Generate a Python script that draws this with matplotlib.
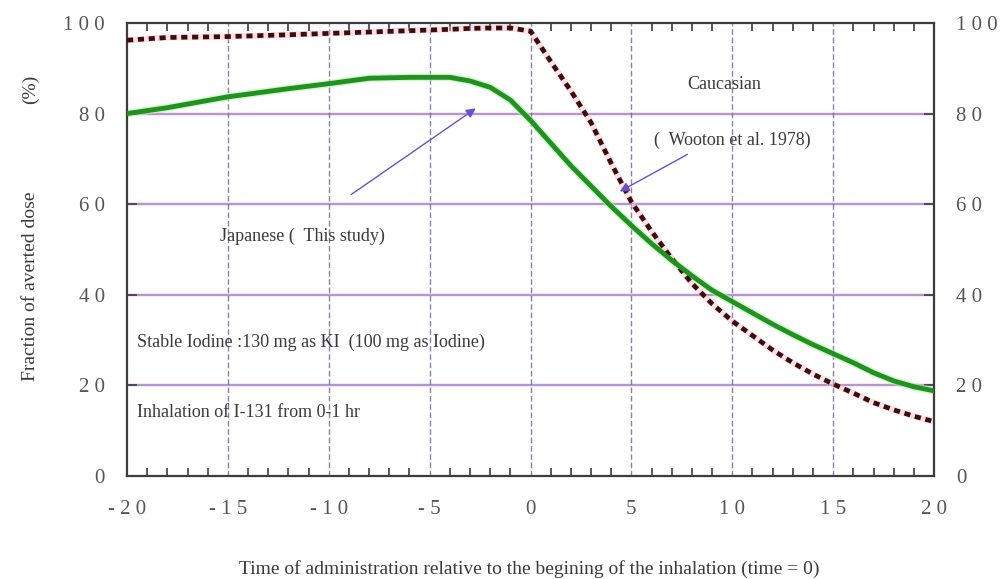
import matplotlib.pyplot as plt
from matplotlib.ticker import MultipleLocator

# values
hours = [-20, -18, -15, -12, -10, -8, -6, -4, -3, -2, -1, 0, 1, 2, 3, 4, 5, 6, 7, 8, 9,
         10, 11, 12, 13, 14, 15, 16, 17, 18, 19, 20]
japanese = [80.0, 81.3, 83.7, 85.5, 86.6, 87.8, 88.0, 88.0, 87.2, 85.8, 83.0, 78.5,
            73.5, 68.5, 64.0, 59.5, 55.3, 51.3, 47.6, 44.2, 41.0, 38.5, 36.0, 33.5,
            31.2, 29.0, 27.0, 25.0, 22.8, 21.0, 19.7, 18.8]
caucasian = [96.2, 96.8, 97.0, 97.4, 97.7, 98.0, 98.3, 98.6, 98.8, 98.9, 98.9, 98.2,
             91.5, 85.0, 78.0, 69.0, 60.5, 54.0, 48.0, 42.5, 38.0, 34.2, 31.0, 27.8,
             25.0, 22.5, 20.3, 18.3, 16.2, 14.6, 13.2, 12.0]

x_ticks = [-20, -15, -10, -5, 0, 5, 10, 15, 20]
x_labels = ["- 2 0", "- 1 5", "- 1 0", "- 5", "0", "5", "1 0", "1 5", "2 0"]
y_ticks = [0, 20, 40, 60, 80, 100]
y_labels = ["0", "2 0", "4 0", "6 0", "8 0", "1 0 0"]

TEXT = "#3a3a3a"
TICK_TEXT = "#555555"
GRID = "#6f5f9c"

plt.rcParams["font.family"] = ["Liberation Serif", "DejaVu Serif"]

fig = plt.figure(figsize=(10.05, 5.79), dpi=100)
ax = fig.add_axes([0.1264, 0.1779, 0.8030, 0.7824])

ax.set_xlim(-20, 20)
ax.set_ylim(0, 100)

for xv in x_ticks[1:-1]:
    ax.axvline(xv, color=GRID, lw=1.0, ls=(0, (4, 2)), zorder=1, alpha=0.8)
for yv in y_ticks[1:-1]:
    ax.axhline(yv, color="#f3d2ee", lw=3.0, zorder=0.5, alpha=0.6)
    ax.axhline(yv, color="#7a62b4", lw=1.1, zorder=1, alpha=0.75)

ax.plot(hours, caucasian, color="#f2b8c8", lw=4.5, zorder=2, alpha=0.45)
ax.plot(hours, caucasian, color="#3e0c0c", lw=3.4, ls=(0, (1.3, 1.0)), zorder=3)
ax.plot(hours, japanese, color="#b9efb0", lw=5.5, zorder=2, alpha=0.6)
ax.plot(hours, japanese, color="#1f9220", lw=3.5, zorder=4)

for side in ax.spines.values():
    side.set_color("#3c3c3c")
    side.set_linewidth(1.6)

ax.set_xticks(x_ticks, labels=x_labels)
ax.set_yticks(y_ticks, labels=y_labels)
ax.xaxis.set_minor_locator(MultipleLocator(1))
ax.tick_params(axis="x", which="major", direction="in", length=0, pad=17,
               labelsize=15, labelcolor=TICK_TEXT)
ax.tick_params(axis="x", which="minor", direction="in", length=6, width=1.2,
               color="#3c3c3c", top=True)
ax.tick_params(axis="y", which="major", direction="in", length=7, width=1.2,
               color="#3c3c3c", right=True, labelright=True, pad=16,
               labelsize=15, labelcolor=TICK_TEXT)

ax.text(9.6, 86.5, "Caucasian", fontsize=13, color=TEXT, ha="center", va="center")
ax.text(6.1, 74.0, "(  Wooton et al. 1978)", fontsize=13, color=TEXT, ha="left", va="center")
ax.annotate("", xy=(4.3, 62.5), xytext=(7.9, 71.3),
            arrowprops=dict(arrowstyle="-|>", color="#6a4fd0", lw=1.0, mutation_scale=14))
ax.text(-15.4, 52.8, "Japanese (  This study)", fontsize=13, color=TEXT, ha="left", va="center")
ax.annotate("", xy=(-2.6, 81.5), xytext=(-9.0, 61.8),
            arrowprops=dict(arrowstyle="-|>", color="#6a4fd0", lw=1.0, mutation_scale=14))
ax.text(-19.5, 29.4, "Stable Iodine :130 mg as KI  (100 mg as Iodine)", fontsize=13,
        color=TEXT, ha="left", va="center")
ax.text(-19.5, 14.0, "Inhalation of I-131 from 0-1 hr", fontsize=13, color=TEXT,
        ha="left", va="center")

fig.text(0.030, 0.505, "Fraction of averted dose", rotation=90, fontsize=14,
         color=TEXT, ha="center", va="center")
fig.text(0.030, 0.845, "(%)", rotation=90, fontsize=14, color=TEXT, ha="center", va="center")
fig.text(0.527, 0.018, "Time of administration relative to the begining of the inhalation (time = 0)",
         fontsize=14, color=TEXT, ha="center", va="center")

fig.savefig("out.png", dpi=100)
